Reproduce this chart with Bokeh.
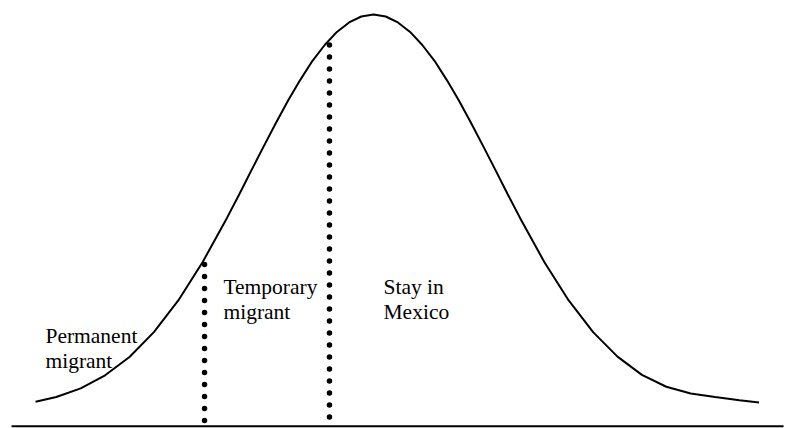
from bokeh.plotting import figure
from bokeh.models import Range1d, ColumnDataSource
from bokeh.core.properties import value
from bokeh.embed import file_html
from bokeh.resources import INLINE

# Curve (standardised wage x, relative density y)
curve_x = [-2.77, -2.6, -2.4, -2.2, -2.0, -1.8, -1.6, -1.4, -1.2, -1.1, -1.0, -0.9, -0.8,
           -0.7, -0.6, -0.5, -0.4, -0.3, -0.2, -0.1, 0.0, 0.1, 0.2, 0.3, 0.4, 0.5, 0.6,
           0.7, 0.8, 0.9, 1.0, 1.1, 1.2, 1.4, 1.6, 1.8, 2.0, 2.2, 2.4, 2.6, 2.8, 3.0, 3.16]
curve_y = [0.022, 0.034, 0.056, 0.089, 0.135, 0.198, 0.278, 0.375, 0.487, 0.546, 0.607,
           0.667, 0.726, 0.783, 0.835, 0.883, 0.923, 0.956, 0.980, 0.995, 1.000, 0.995,
           0.980, 0.956, 0.923, 0.883, 0.835, 0.783, 0.726, 0.667, 0.607, 0.546, 0.487,
           0.375, 0.278, 0.198, 0.136, 0.090, 0.060, 0.043, 0.034, 0.026, 0.020]

# Thresholds (dotted cut-offs): x position, top value
cut_x = [-1.385, -0.361]
cut_top = [0.369, 0.923]
axis_level = -0.040
axis_start, axis_end = -2.967, 3.361

# Labels
label_text = ["Permanent", "migrant", "Temporary", "migrant", "Stay in", "Mexico"]
label_x = [-2.689, -2.689, -1.230, -1.230, 0.082, 0.082]
label_y = [0.189, 0.126, 0.313, 0.250, 0.311, 0.2475]

p = figure(width=807, height=428, output_backend="svg", toolbar_location=None,
           x_range=Range1d(-3.0574, 3.5574), y_range=Range1d(-0.04545, 1.03535),
           x_axis_type=None, y_axis_type=None, min_border=0,
           background_fill_color="white", border_fill_color="white")
p.grid.visible = False
p.outline_line_color = None

p.line(curve_x, curve_y, line_color="black", line_width=2)

p.segment(x0=[axis_start], y0=[axis_level], x1=[axis_end], y1=[axis_level],
          line_color="black", line_width=2)

p.segment(x0=cut_x, y0=cut_top, x1=cut_x, y1=[axis_level + 0.012] * len(cut_x),
          line_color="black", line_width=5.5, line_dash="0 12", line_cap="round")

src = ColumnDataSource(dict(x=label_x, y=label_y, t=label_text))
p.text(x="x", y="y", text="t", source=src, text_font=value("Liberation Serif"),
       text_font_size="21.5px", text_align="left", text_baseline="alphabetic",
       text_color="black")

open("out.html", "w").write(file_html(p, INLINE))
